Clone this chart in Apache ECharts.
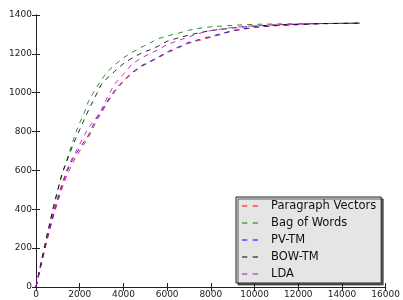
<!DOCTYPE html>
<html><head><meta charset="utf-8">
<script src="https://cdn.jsdelivr.net/npm/echarts@6/dist/echarts.min.js"></script>
<style>html,body{margin:0;padding:0;background:#fff}#c{width:403px;height:300px}</style>
</head><body><div id="c"></div>
<script>
const xs = [0,200,400,600,800,1000,1200,1400,1600,1800,2000,2200,2400,2600,2800,3000,3300,3600,4000,4400,4800,5200,5600,6000,6500,7000,7500,8000,9000,10000,11000,12000,13000,14000,14800];
const paragraphVectors = [0,95,190,280,365,440,510,570,620,665,700,735,770,815,860,898,955,1005,1058,1100,1133,1157,1180,1205,1230,1255,1270,1285,1318,1336,1345,1350,1355,1357,1358];
const bagOfWords = [0,110,215,315,415,505,585,650,720,790,845,895,955,995,1032,1068,1112,1143,1180,1208,1233,1255,1278,1292,1306,1322,1332,1339,1347,1352,1354,1355,1356,1357,1358];
const pvTm = [0,100,198,290,378,455,525,590,640,680,715,748,782,830,872,905,962,1012,1062,1104,1138,1160,1184,1210,1235,1260,1275,1290,1320,1338,1346,1351,1355,1357,1358];
const bowTm = [0,108,212,312,410,500,585,645,705,760,810,860,910,955,1000,1045,1080,1110,1150,1178,1203,1220,1240,1265,1282,1297,1309,1320,1333,1343,1349,1353,1356,1357,1358];
const lda = [0,100,200,295,385,465,535,600,650,692,735,778,818,848,878,915,985,1045,1095,1148,1178,1200,1222,1248,1268,1288,1306,1320,1336,1345,1350,1353,1356,1357,1358];
const seriesNames = ['Paragraph Vectors','Bag of Words','PV-TM','BOW-TM','LDA'];
const seriesData = [paragraphVectors, bagOfWords, pvTm, bowTm, lda];
const colors = ['#ff0000','#008000','#0000ff','#000000','#bf00bf'];

const chart = echarts.init(document.getElementById('c'), null, {renderer:'canvas'});
const font = 'DejaVu Sans';
const axisCommon = {
  axisLine:{show:true,lineStyle:{color:'#222',width:1}},
  axisTick:{show:true,inside:true,length:4,lineStyle:{color:'#222'}},
  splitLine:{show:false}
};
const plain = v => String(v);
chart.setOption({
  animation:false,
  color: colors,
  grid:{left:36,right:15,top:15,bottom:13,containLabel:false},
  xAxis:[
    Object.assign({type:'value',min:0,max:16000,interval:2000,position:'bottom',
      axisLabel:{color:'#222',fontFamily:font,fontSize:9,margin:3,formatter:plain}},axisCommon),
    Object.assign({type:'value',min:0,max:16000,interval:2000,position:'top',
      axisLabel:{show:false}},axisCommon)
  ],
  yAxis:[
    Object.assign({type:'value',min:0,max:1400,interval:200,position:'left',
      axisLabel:{color:'#222',fontFamily:font,fontSize:9,margin:4,formatter:plain}},axisCommon),
    Object.assign({type:'value',min:0,max:1400,interval:200,position:'right',
      axisLabel:{show:false}},axisCommon)
  ],
  legend:{
    orient:'vertical',left:236,top:197,
    backgroundColor:'#e5e5e5',borderColor:'#222',borderWidth:1,borderRadius:0,
    padding:[2,5,2,6],itemGap:3,itemWidth:16,itemHeight:2,
    icon:'path://M0,0L5,0L5,1L0,1ZM10,0L15,0L15,1L10,1Z',
    shadowColor:'rgba(0,0,0,0.6)',shadowOffsetX:2,shadowOffsetY:2,shadowBlur:0,
    textStyle:{fontFamily:font,fontSize:11.5,lineHeight:14,color:'#111',padding:[0,0,0,8]},
    data:seriesNames
  },
  series: seriesNames.map((n,i)=>({
    name:n,type:'line',showSymbol:false,symbol:'none',
    data: xs.map((x,j)=>[x,seriesData[i][j]]),
    lineStyle:{width:1,type:[5,5],color:colors[i],opacity:0.85}
  }))
});
</script></body></html>
